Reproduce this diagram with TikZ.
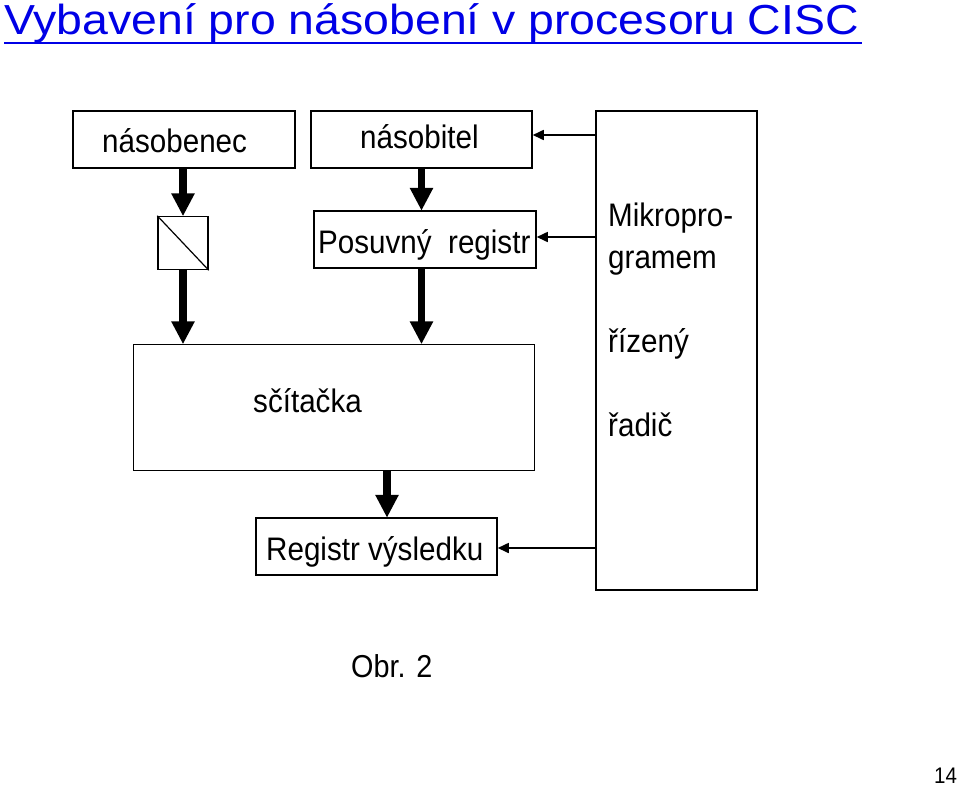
\documentclass[tikz,border=0pt]{standalone}
\usepackage{graphicx}
\usepackage{fontspec}
\setmainfont{Liberation Sans}
\usetikzlibrary{arrows.meta}
\definecolor{titleblue}{RGB}{0,0,230}
\newcommand\fsz[1]{\fontsize{#1}{#1}\selectfont}
\newcommand\vst[1]{\scalebox{1}[1.1]{#1}}
\tikzset{
  box/.style={draw=black, line width=1.5pt, fill=white, inner sep=0pt, minimum width=#1},
  txt/.style={inner sep=0pt, anchor=base west, font=\fsz{29.6}},
  bigarrow/.style={line width=7.5pt, -{Triangle[width=22pt,length=23pt]}, shorten >=-0.5pt},
  thinarrow/.style={line width=1.6pt, -{Triangle[width=10pt,length=11pt]}}
}
\begin{document}
\begin{tikzpicture}[x=1pt,y=-1pt]
\useasboundingbox (0,0) rectangle (960,787);
% title
\node[inner sep=0pt, anchor=base west, text=titleblue, font=\fsz{42}] (title) at (4,34) {\scalebox{1.105}[1]{Vybavení pro násobení v procesoru CISC}};
\draw[titleblue, line width=2.5pt] (title.base west |- 0,43) -- (862,43);
% boxes
\node[box=222pt, minimum height=57pt] (nasobenec) at (184,139.5) {};
\node[txt] (t1) at (102,152) {\vst{násobenec}};
\node[box=221pt, minimum height=57pt] (nasobitel) at (421.5,139.5) {};
\node[txt] (t2) at (360,148) {\vst{násobitel}};
\node[box=50pt, minimum height=53pt] (mux) at (183,243) {};
\draw[line width=1.2pt] (mux.north west) -- (mux.south east);
\node[box=222pt, minimum height=57pt] (posuvny) at (425,239.5) {};
\node[txt] (t3) at (318,253) {\vst{Posuvný\ \ registr}};
\node[box=401pt, minimum height=126pt] (adder) at (334,407.5) {};
\node[txt] (t4) at (253,412) {\vst{sčítačka}};
\node[box=241pt, minimum height=57pt] (vysl) at (376.5,546.5) {};
\node[txt] (t5) at (266,560) {\vst{Registr výsledku}};
\node[box=161pt, minimum height=479pt] (ctrl) at (676.5,350.5) {};
\node[txt] (c1) at (608,226) {\vst{Mikropro-}};
\node[txt] (c2) at (608,268) {\vst{gramem}};
\node[txt] (c3) at (608,352) {\vst{řízený}};
\node[txt] (c4) at (608,436) {\vst{řadič}};
% thick arrows
\coordinate (xa) at (387,0);
\draw[bigarrow] (mux.north |- nasobenec.south) -- (mux.north);
\draw[bigarrow] (mux.south) -- (mux.south |- adder.north);
\draw[bigarrow] (nasobitel.south) -- (nasobitel.south |- posuvny.north);
\draw[bigarrow] (nasobitel.south |- posuvny.south) -- (nasobitel.south |- adder.north);
\draw[bigarrow] (adder.south -| xa) -- (vysl.north -| xa);
% thin arrows
\draw[thinarrow] (ctrl.west |- 0,135) -- (nasobitel.east |- 0,135);
\draw[thinarrow] (ctrl.west |- 0,237) -- (posuvny.east |- 0,237);
\draw[thinarrow] (ctrl.west |- 0,548) -- (vysl.east |- 0,548);
% captions
\node[txt, font=\fsz{28.8}] (obr) at (351,677) {\vst{Obr. 2}};
\node[txt, font=\fsz{20.5}] (page) at (934,783) {\vst{14}};
\end{tikzpicture}
\end{document}
